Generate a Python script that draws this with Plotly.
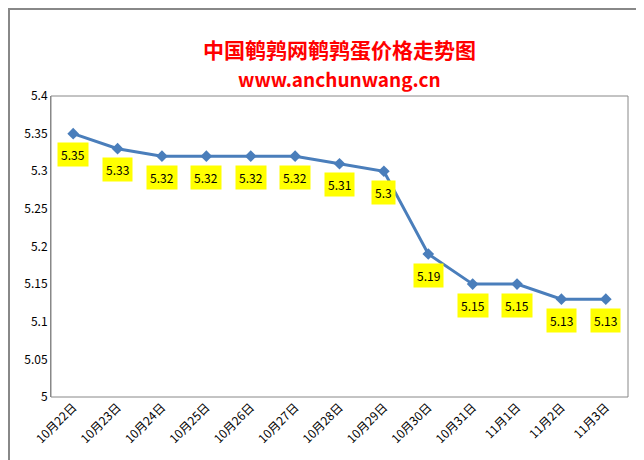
import plotly.graph_objects as go

dates = ["10月22日", "10月23日", "10月24日", "10月25日", "10月26日", "10月27日", "10月28日",
         "10月29日", "10月30日", "10月31日", "11月1日", "11月2日", "11月3日"]
prices = [5.35, 5.33, 5.32, 5.32, 5.32, 5.32, 5.31, 5.30, 5.19, 5.15, 5.15, 5.13, 5.13]
price_labels = ["5.35", "5.33", "5.32", "5.32", "5.32", "5.32", "5.31", "5.3", "5.19", "5.15", "5.15", "5.13", "5.13"]

fig = go.Figure()
fig.add_trace(go.Scatter(x=dates, y=prices, mode="lines+markers",
                         line=dict(color="#4a7ebb", width=3),
                         marker=dict(symbol="diamond", size=9, color="#4a7ebb")))

for d, p, t in zip(dates, prices, price_labels):
    fig.add_annotation(x=d, y=p, text=t, showarrow=False, yshift=-21,
                       bgcolor="#ffff00", font=dict(size=12, color="black"), borderpad=3)

# titles as paper annotations so they don't push the plot area
fig.add_annotation(text="<b>中国鹌鹑网鹌鹑蛋价格走势图</b>", xref="paper", yref="paper",
                   x=0.5, y=1 + 64/301, showarrow=False, font=dict(size=21, color="#ff0000"))
fig.add_annotation(text="<b>www.anchunwang.cn</b>", xref="paper", yref="paper",
                   x=0.5, y=1 + 33/301, showarrow=False, font=dict(size=19, color="#ff0000"))

fig.update_layout(
    width=644, height=460, showlegend=False,
    paper_bgcolor="white", plot_bgcolor="white",
    margin=dict(l=43, r=24, t=88, b=71, autoexpand=False),
    font=dict(family="Noto Sans CJK SC, DejaVu Sans", size=11, color="black"),
    shapes=[dict(type="rect", xref="paper", yref="paper", x0=0, y0=0, x1=1, y1=1,
                 line=dict(color="#888888", width=1)),
            dict(type="rect", xref="paper", yref="paper", x0=-42/577, y0=-70/301, x1=1+23/577, y1=1+87/301,
                 line=dict(color="#888888", width=2))],
)
fig.update_xaxes(tickangle=-45, showgrid=False, ticks="", tickfont=dict(size=12),
                 range=[-0.5, 12.5], automargin=False)
fig.update_yaxes(range=[5, 5.4], dtick=0.05, showgrid=False, automargin=False,
                 zeroline=False, ticks="", tickfont=dict(size=12),
                 showline=True, linecolor="#888888")
fig.write_html("out.html")
